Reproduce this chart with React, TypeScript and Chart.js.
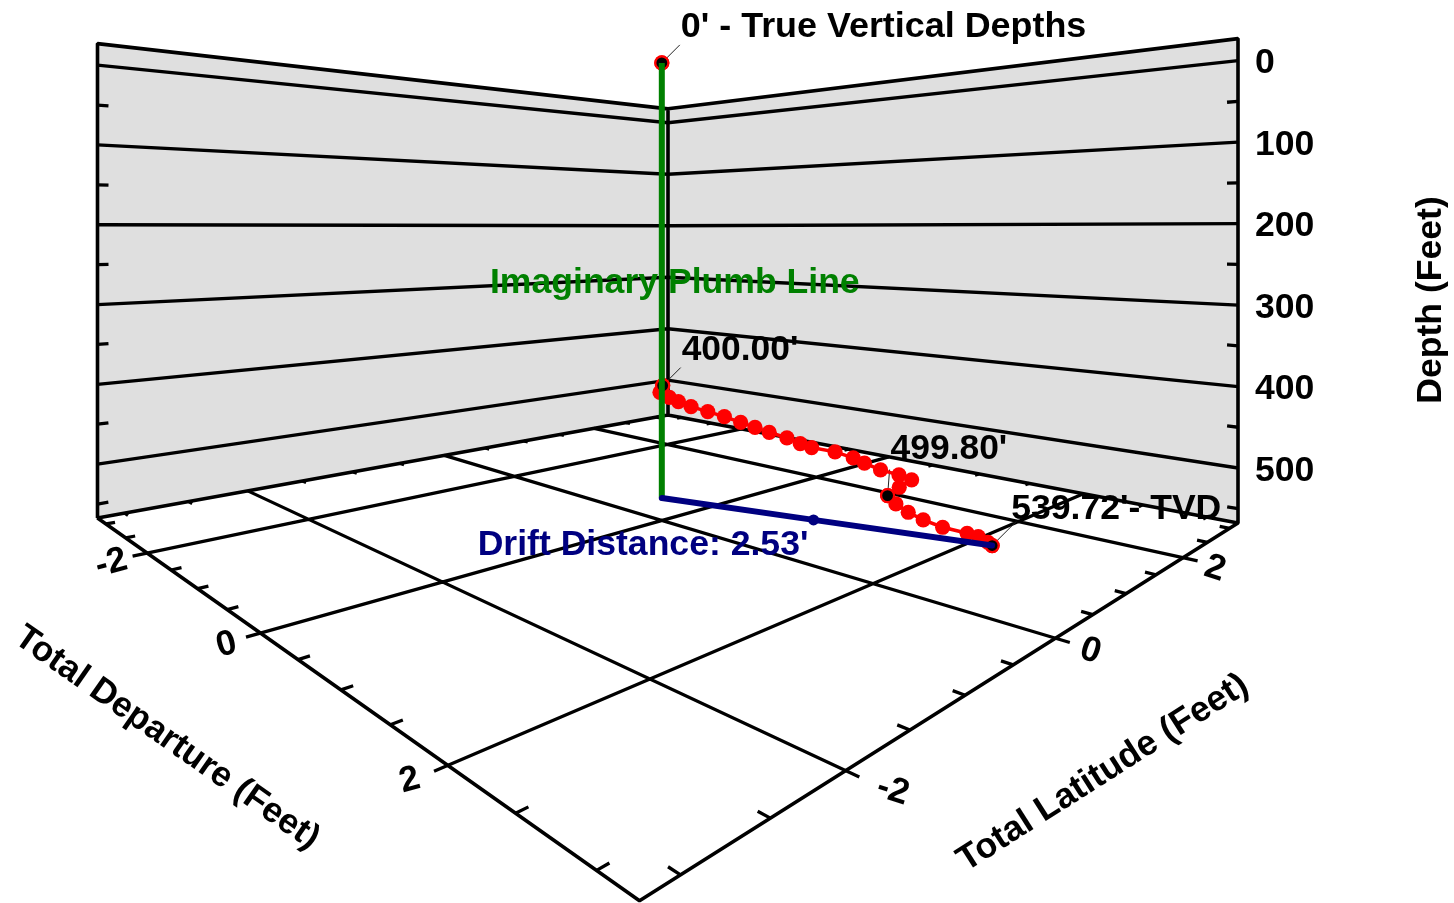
import React, { useEffect, useRef } from "react";
import { Chart, registerables } from "chart.js";
Chart.register(...registerables);

// ---------- data (feet) ----------
const surveyDepth = [0, 400, 405, 410, 415, 420, 425, 430, 435, 440, 445, 450, 455, 460, 465, 470, 475, 480, 485, 490, 495, 499.8, 504.8, 509.8, 514.8, 519.8, 524.8, 529.8, 534.8, 539.72];
const surveyDeparture = [0, 0.011, 0.091, 0.172, 0.227, 0.323, 0.439, 0.552, 0.68, 0.776, 0.87, 0.995, 1.096, 1.149, 1.271, 1.399, 1.473, 1.599, 1.703, 1.777, 1.761, 1.764, 1.86, 1.972, 2.082, 2.207, 2.337, 2.373, 2.429, 2.434];
const surveyLatitude = [0, -0.001, -0.107, -0.084, -0.039, 0.004, 0.07, 0.136, 0.18, 0.235, 0.29, 0.347, 0.379, 0.448, 0.573, 0.624, 0.66, 0.681, 0.762, 0.813, 0.676, 0.524, 0.482, 0.462, 0.474, 0.514, 0.607, 0.69, 0.718, 0.766];
const markedDepths = [0, 400, 499.8, 539.72];
const plumbDepths = [0, 539.72];
const driftDeparture = [0, 1.217, 2.434];
const driftLatitude = [0, 0.383, 0.766];
const departureMajor = [-2, 0, 2];
const departureMinor = [-3, -2.5, -1.5, -1, -0.5, 0.5, 1, 1.5, 2.5, 3];
const latitudeMajor = [-2, 0, 2];
const latitudeMinor = [-3, -2.5, -1.5, -1, -0.5, 0.5, 1, 1.5, 2.5, 3];
const depthMajor = [0, 100, 200, 300, 400, 500];
const depthMinor = [50, 150, 250, 350, 450, 550];
const depRange = [-3.23, 3.23];
const latRange = [-3.2, 3.2];
const depthRange = [-27, 567.5];

// ---------- perspective camera ----------
const W = 1454, H = 903;
const cL = [97.5, 518], cF = [639.5, 900.7], cR = [1238, 523], cB = [668, 415];
const wallScale = 0.798;
const dx1 = cF[0] - cR[0], dx2 = cB[0] - cR[0], sx = cL[0] - cF[0] + cR[0] - cB[0];
const dy1 = cF[1] - cR[1], dy2 = cB[1] - cR[1], sy = cL[1] - cF[1] + cR[1] - cB[1];
const det = dx1 * dy2 - dx2 * dy1;
const g = (sx * dy2 - dx2 * sy) / det, h = (dx1 * sy - sx * dy1) / det;
const a = cF[0] - cL[0] + g * cF[0], b = cB[0] - cL[0] + h * cB[0], c = cL[0];
const d = cF[1] - cL[1] + g * cF[1], e = cB[1] - cL[1] + h * cB[1], f = cL[1];
type P = { x: number; y: number };
function project(dep: number, lat: number, depth: number): P {
  const u = (dep - depRange[0]) / (depRange[1] - depRange[0]);
  const v = (lat - latRange[0]) / (latRange[1] - latRange[0]);
  const w = 1 + g * u + h * v;
  return { x: (a * u + b * v + c) / w, y: (d * u + e * v + f + wallScale * (depth - depthRange[1])) / w };
}
const GAP: P = { x: NaN, y: NaN };
const [dMin, dMax] = depRange, [lMin, lMax] = latRange, [zTop, zBot] = depthRange;
function toward(p: P, q: P, len: number): P {
  const n = Math.hypot(q.x - p.x, q.y - p.y) || 1;
  return { x: p.x + ((q.x - p.x) / n) * len, y: p.y + ((q.y - p.y) / n) * len };
}

// ---------- text layout ----------
const FONT = '"Liberation Sans", Arial, sans-serif';
const labelSpecs = [
  { text: "0' - True Vertical Depths", mark: 0, off: [19, -26], lead: [3, -3, 18, -18], size: 35.9 },
  { text: "400.00'", mark: 1, off: [19, -26], lead: [3, -3, 18, -18], size: 35.4 },
  { text: "499.80'", mark: 2, off: [3, -37], lead: [0, 0, 2, -26], size: 35.4 },
  { text: "539.72'- TVD", mark: 3, off: [19, -27], lead: [3, -3, 24, -24], size: 35.6 },
];
const depTickOffset = [[-36, 10], [-34, 12], [-38, 15]];
const latTickOffset = [[47, 20], [35, 13], [32, 11]];

const track = surveyDepth.map((z, i) => project(surveyDeparture[i], surveyLatitude[i], z));
const marks = markedDepths.map((z) => track[surveyDepth.indexOf(z)]);

function buildDatasets() {
  const line = (data: P[], color: string, width: number, extra: any = {}) => ({
    data, showLine: true, borderColor: color, borderWidth: width, pointRadius: 0, tension: 0, fill: false, borderCapStyle: "butt", ...extra,
  });
  const wall = (data: P[]) => line(data, "rgba(0,0,0,0)", 0, { fill: "shape", backgroundColor: "#dfdfdf" });
  const box: P[] = [];
  const grid: P[] = [];
  const ticks: P[] = [];
  const seg = (arr: P[], p: P, q: P) => arr.push(p, q, GAP);

  const tl = project(dMin, lMin, zTop), bl = project(dMin, lMin, zBot);
  const tc = project(dMin, lMax, zTop), bc = project(dMin, lMax, zBot);
  const tr = project(dMax, lMax, zTop), br = project(dMax, lMax, zBot);
  const fr = project(dMax, lMin, zBot);
  box.push(bl, tl, tc, tr, br, fr, bl, bc, br, GAP, tc, bc, GAP);

  depthMajor.forEach((z) => {
    grid.push(project(dMin, lMin, z), project(dMin, lMax, z), project(dMax, lMax, z), GAP);
  });
  depthMinor.forEach((z) => {
    const p = project(dMin, lMin, z);
    seg(ticks, p, toward(p, project(dMin, lMax, z), 11));
    const r = project(dMax, lMax, z);
    seg(ticks, r, toward(r, project(dMin, lMax, z), 11));
  });
  departureMajor.forEach((v) => {
    const p = project(v, lMin, zBot), q = project(v, lMax, zBot);
    seg(grid, toward(p, q, -15), q);
  });
  latitudeMajor.forEach((v) => {
    const p = project(dMax, v, zBot), q = project(dMin, v, zBot);
    seg(grid, toward(p, q, -15), q);
  });
  departureMinor.forEach((v) => {
    const u = (v - dMin) / (dMax - dMin);
    const p = project(v, lMin, zBot), q = project(v, lMax, zBot);
    seg(ticks, p, toward(p, q, 9 + 6 * u));
    seg(ticks, q, toward(q, p, 4));
  });
  latitudeMinor.forEach((v) => {
    const t = (v - lMin) / (lMax - lMin);
    const p = project(dMax, v, zBot), q = project(dMin, v, zBot);
    seg(ticks, p, toward(p, q, 15 - 5 * t));
    seg(ticks, q, toward(q, p, 4));
  });

  const leaders: P[] = [];
  labelSpecs.forEach((s) => {
    const p = marks[s.mark];
    seg(leaders, { x: p.x + s.lead[0], y: p.y + s.lead[1] }, { x: p.x + s.lead[2], y: p.y + s.lead[3] });
  });
  const plumb = plumbDepths.map((z) => project(0, 0, z));
  const drift = driftDeparture.map((v, i) => project(v, driftLatitude[i], surveyDepth[surveyDepth.length - 1]));

  const list: any[] = [
    wall([tl, tc, bc, bl, tl]),
    wall([tc, tr, br, bc, tc]),
    line(grid, "#000", 3.3),
    line(ticks, "#000", 3.3),
    line(box, "#000", 3.6, { borderJoinStyle: "bevel" }),
    line(leaders, "#222", 1),
    line(track, "#ff0000", 3.5, { pointRadius: 7.6, pointBackgroundColor: "#ff0000", pointBorderColor: "#ff0000", pointBorderWidth: 0 }),
    { data: marks, showLine: false, pointRadius: 6.5, pointBackgroundColor: "#000", pointBorderColor: "#ff0000", pointBorderWidth: 2.2 },
    line(plumb, "#008000", 6),
    line(drift, "#000080", 6, { borderCapStyle: "round", pointRadius: [0, 5.5, 0], pointBackgroundColor: "#000080", pointBorderWidth: 0 }),
  ];
  list.forEach((ds, i) => (ds.order = list.length - i));
  return list;
}

const textPlugin = {
  id: "texts",
  afterDatasetsDraw(chart: any) {
    const { ctx } = chart;
    const sX = chart.scales.x, sY = chart.scales.y;
    const put = (t: string, x: number, y: number, opts: any = {}) => {
      ctx.save();
      ctx.font = `bold ${opts.size || 35.6}px ${FONT}`;
      ctx.fillStyle = opts.color || "#000";
      ctx.textAlign = opts.align || "center";
      ctx.textBaseline = opts.base || "middle";
      ctx.translate(x, y);
      ctx.rotate(((opts.rot || 0) * Math.PI) / 180);
      ctx.fillText(t, 0, 0);
      ctx.restore();
    };
    const at = (p: P) => ({ x: sX.getPixelForValue(p.x), y: sY.getPixelForValue(p.y) });
    depthMajor.forEach((z) => {
      const p = at(project(dMax, lMax, z));
      put(String(z), p.x + 17, p.y + 3, { align: "left" });
    });
    departureMajor.forEach((v, i) => {
      const p = at(project(v, lMin, zBot));
      put(String(v), p.x + depTickOffset[i][0], p.y + depTickOffset[i][1], { rot: -15 });
    });
    latitudeMajor.forEach((v, i) => {
      const p = at(project(dMax, v, zBot));
      put(String(v), p.x + latTickOffset[i][0], p.y + latTickOffset[i][1], { rot: 18 });
    });
    put("Depth (Feet)", 1431, 300, { rot: -90 });
    put("Total Departure (Feet)", 167, 738, { rot: 35, size: 35.2 });
    put("Total Latitude (Feet)", 1103, 773, { rot: -32.5 });
    labelSpecs.forEach((s) => {
      const p = at(marks[s.mark]);
      put(s.text, p.x + s.off[0], p.y + s.off[1], { align: "left", base: "alphabetic", size: s.size });
    });
    const mid = at(project(0, 0, 240));
    put("Imaginary Plumb Line", mid.x + 13, mid.y + 27, { color: "#008000" });
    put("Drift Distance: 2.53'", 643, 545, { color: "#000080" });
  },
};

export default function App() {
  const ref = useRef<HTMLCanvasElement>(null);
  useEffect(() => {
    document.body.style.margin = "0";
    const chart: any = new Chart(ref.current as HTMLCanvasElement, {
      type: "scatter",
      data: { datasets: buildDatasets() },
      options: {
        animation: false,
        responsive: false,
        devicePixelRatio: 1,
        layout: { padding: 0, autoPadding: false },
        events: [],
        plugins: { legend: { display: false }, title: { display: false }, tooltip: { enabled: false } },
        scales: {
          x: { type: "linear", display: false, min: 0, max: W },
          y: { type: "linear", display: false, min: 0, max: H, reverse: true },
        },
      },
      plugins: [textPlugin],
    } as any);
    return () => chart.destroy();
  }, []);
  return (
    <div style={{ width: W, height: H, background: "#fff" }}>
      <canvas ref={ref} width={W} height={H} style={{ display: "block" }} />
    </div>
  );
}
